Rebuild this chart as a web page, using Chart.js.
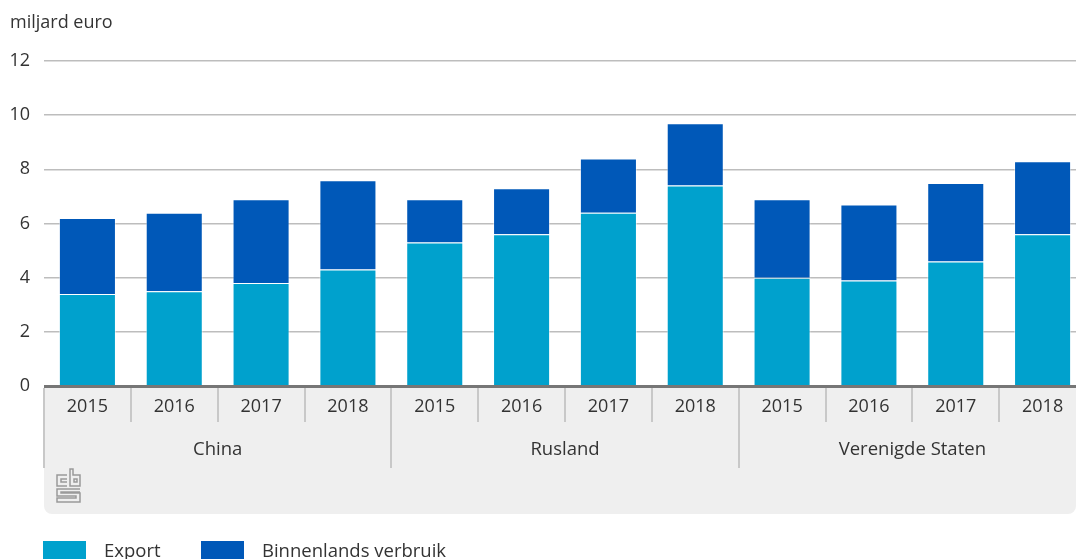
<!DOCTYPE html>
<html>
<head>
<meta charset="utf-8">
<script src="https://cdn.jsdelivr.net/npm/chart.js@4.4.0/dist/chart.umd.min.js"></script>
<style>
	body { margin: 0; background: #fff; overflow: hidden; }
	canvas { display: block; }
</style>
</head>
<body>
<canvas id="chart" width="1086" height="559"></canvas>
<script>
// data (miljard euro)
var years = ['2015', '2016', '2017', '2018'];
var countries = ['China', 'Rusland', 'Verenigde Staten'];
var exportVals = [3.4, 3.5, 3.8, 4.3, 5.3, 5.6, 6.4, 7.4, 4.0, 3.9, 4.6, 5.6];
var binnenlandsVals = [2.8, 2.9, 3.1, 3.3, 1.6, 1.7, 2.0, 2.3, 2.9, 2.8, 2.9, 2.7];
var yTicks = [0, 2, 4, 6, 8, 10, 12];

var FONT = '"Open Sans", sans-serif';
var TEXT = '#333333';

var labels = [];
countries.forEach(function () {
	years.forEach(function (y) { labels.push(y); });
});

// grey axis panel, separators, group labels, legend
var decor = {
	id: 'decor',
	beforeDraw: function (chart) {
		var ctx = chart.ctx;
		var area = chart.chartArea;
		ctx.save();
		ctx.fillStyle = '#EFEFEF';
		ctx.beginPath();
		ctx.roundRect(area.left, area.bottom, 1076 - area.left, 514 - area.bottom, [0, 0, 8, 8]);
		ctx.fill();

		ctx.fillStyle = TEXT;
		ctx.font = '18px ' + FONT;
		ctx.textAlign = 'left';
		ctx.textBaseline = 'middle';
		ctx.fillText('miljard euro', 10, 23);
		ctx.restore();
	},
	afterDraw: function (chart) {
		var ctx = chart.ctx;
		var area = chart.chartArea;
		var x = chart.scales.x;
		var step = x.getPixelForValue(1) - x.getPixelForValue(0);
		ctx.save();

		// separators
		ctx.strokeStyle = '#C8C8C8';
		ctx.lineWidth = 2;
		for (var i = 0; i < labels.length; i++) {
			var xl = Math.round(x.getPixelForValue(i) - step / 2);
			var long = (i % years.length === 0);
			ctx.beginPath();
			ctx.moveTo(xl, area.bottom + 2);
			ctx.lineTo(xl, long ? 468 : 422);
			ctx.stroke();
		}

		// group labels
		ctx.fillStyle = TEXT;
		ctx.font = '18.5px ' + FONT;
		ctx.textAlign = 'center';
		ctx.textBaseline = 'middle';
		countries.forEach(function (c, g) {
			var a = x.getPixelForValue(g * years.length);
			var b = x.getPixelForValue(g * years.length + years.length - 1);
			ctx.fillText(c, (a + b) / 2, 450);
		});

		// axis line on top of bars
		ctx.strokeStyle = '#767676';
		ctx.lineWidth = 3;
		ctx.beginPath();
		ctx.moveTo(area.left, area.bottom + 0.5);
		ctx.lineTo(area.right, area.bottom + 0.5);
		ctx.stroke();

		// cbs logo (rough)
		ctx.strokeStyle = '#9A9A9A';
		ctx.lineWidth = 1.5;
		ctx.translate(56, 469);
		ctx.beginPath();
		ctx.moveTo(11, 6); ctx.lineTo(1, 6); ctx.lineTo(1, 17); ctx.lineTo(11, 17);
		ctx.moveTo(11, 10); ctx.lineTo(5, 10); ctx.lineTo(5, 13); ctx.lineTo(11, 13);
		ctx.moveTo(14, 0); ctx.lineTo(14, 17); ctx.lineTo(24, 17); ctx.lineTo(24, 6); ctx.lineTo(17, 6); ctx.lineTo(17, 0); ctx.closePath();
		ctx.moveTo(18, 10); ctx.lineTo(21, 10); ctx.lineTo(21, 13); ctx.lineTo(18, 13); ctx.closePath();
		ctx.moveTo(24, 20); ctx.lineTo(1, 20); ctx.lineTo(1, 27); ctx.lineTo(20, 27); ctx.lineTo(20, 29); ctx.lineTo(1, 29); ctx.lineTo(1, 33); ctx.lineTo(24, 33); ctx.lineTo(24, 24); ctx.lineTo(5, 24); ctx.lineTo(5, 23); ctx.lineTo(24, 23);
		ctx.stroke();
		ctx.setTransform(1, 0, 0, 1, 0, 0);

		// legend
		var lx = [43, 201];
		chart.data.datasets.forEach(function (ds, k) {
			ctx.fillStyle = ds.backgroundColor;
			ctx.fillRect(lx[k], 541, 43, 20);
			ctx.fillStyle = TEXT;
			ctx.font = '18.5px ' + FONT;
			ctx.textAlign = 'left';
			ctx.textBaseline = 'middle';
			ctx.fillText(ds.label, lx[k] + 61, 552);
		});
		ctx.restore();
	}
};

var chart = new Chart(document.getElementById('chart'), {
	type: 'bar',
	data: {
		labels: labels,
		datasets: [{
			label: 'Export',
			data: exportVals,
			backgroundColor: '#00A1CD',
			borderColor: 'rgba(255,255,255,0.55)',
			borderWidth: 1
		}, {
			label: 'Binnenlands verbruik',
			data: binnenlandsVals,
			backgroundColor: '#0058B8',
			borderColor: 'rgba(255,255,255,0.45)',
			borderWidth: 1
		}]
	},
	options: {
		responsive: false,
		animation: false,
		devicePixelRatio: 1,
		layout: { padding: { top: 61, right: 0, bottom: 0, left: 0 } },
		plugins: {
			legend: { display: false },
			tooltip: { enabled: false },
			title: { display: false }
		},
		datasets: {
			bar: { categoryPercentage: 1, barPercentage: 0.657 }
		},
		scales: {
			x: {
				stacked: true,
				grid: { display: false, drawTicks: false },
				border: { display: false },
				ticks: {
					color: TEXT,
					font: { family: FONT, size: 18 },
					padding: 10,
					maxRotation: 0,
					autoSkip: false
				},
				afterFit: function (scale) { scale.height = 559 - 386; }
			},
			y: {
				stacked: true,
				min: 0,
				max: 12,
				afterBuildTicks: function (scale) {
					scale.ticks = yTicks.map(function (v) { return { value: v }; });
				},
				grid: { color: '#BDBDBD', lineWidth: 1.5, drawTicks: false },
				border: { display: false },
				ticks: {
					color: TEXT,
					font: { family: FONT, size: 18 },
					padding: 14
				},
				afterFit: function (scale) { scale.width = 44; }
			}
		}
	},
	plugins: [decor]
});
</script>
</body>
</html>
